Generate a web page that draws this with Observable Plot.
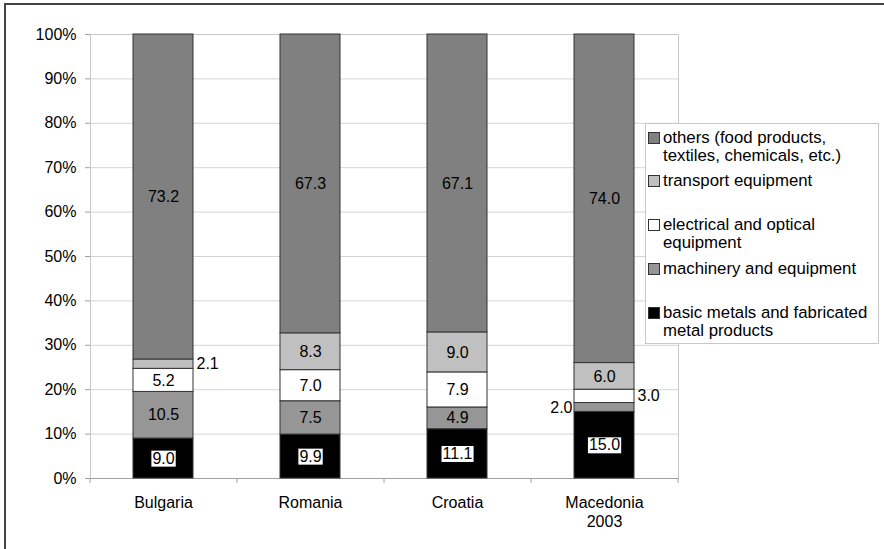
<!DOCTYPE html>
<html>
<head>
<meta charset="utf-8">
<script src="https://cdn.jsdelivr.net/npm/d3@7"></script>
<script src="https://cdn.jsdelivr.net/npm/@observablehq/plot@0.6"></script>
<style>
  html, body { margin: 0; padding: 0; background: #fff; }
  #wrap { position: relative; width: 884px; height: 549px; overflow: hidden; font-family: "Liberation Sans", Arial, sans-serif; }
  #frame { position: absolute; left: 4px; top: 3px; width: 1000px; height: 1000px; border-left: 2px solid #444; border-top: 2px solid #444; pointer-events: none; }
  #legend { position: absolute; left: 645px; top: 123px; width: 232px; height: 219px; border: 1px solid #c8c8c8; background: #fff; }
  .item { position: absolute; left: 0; font-size: 16.8px; line-height: 17.5px; color: #000; }
  .sw { position: absolute; width: 10px; height: 10px; border: 1px solid #333; }
  .lab { position: absolute; left: 15px; white-space: nowrap; }
</style>
</head>
<body>
<div id="wrap"><div id="chart"></div><div id="legend"></div><div id="frame"></div></div>
<script>
const categories = ["Bulgaria", "Romania", "Croatia", "Macedonia\n2003"];
const sectors = [
  "basic metals and fabricated metal products",
  "machinery and equipment",
  "electrical and optical equipment",
  "transport equipment",
  "others (food products, textiles, chemicals, etc.)"
];
const legendLabels = [
  "basic metals and fabricated\nmetal products",
  "machinery and equipment",
  "electrical and optical\nequipment",
  "transport equipment",
  "others (food products,\ntextiles, chemicals, etc.)"
];
const colors = ["#000000", "#969696", "#ffffff", "#c0c0c0", "#808080"];
const basicMetals = [9.0, 9.9, 11.1, 15.0];
const machinery = [10.5, 7.5, 4.9, 2.0];
const electrical = [5.2, 7.0, 7.9, 3.0];
const transport = [2.1, 8.3, 9.0, 6.0];
const others = [73.2, 67.3, 67.1, 74.0];
const yTicks = [0, 10, 20, 30, 40, 50, 60, 70, 80, 90, 100];
// labels placed outside the bar: [category index, sector index, side]
const outsideLabels = [[0, 3, "right"], [3, 1, "left"], [3, 2, "right"]];

const series = [basicMetals, machinery, electrical, transport, others];
const rows = [];
categories.forEach((c, ci) => {
  let acc = 0;
  series.forEach((s, si) => {
    const v = s[ci];
    const o = outsideLabels.find(d => d[0] === ci && d[1] === si);
    rows.push({country: c, sector: sectors[si], value: v, y1: acc, y2: acc + v, mid: acc + v / 2,
               side: o ? o[2] : "inside", black: si === 0});
    acc += v;
  });
});

const fmt = d3.format(".1f");
const chart = Plot.plot({
  width: 884,
  height: 549,
  marginLeft: 90,
  marginRight: 206,
  marginTop: 34,
  marginBottom: 71,
  style: {fontFamily: "'Liberation Sans', Arial, sans-serif", fontSize: "16px", background: "transparent"},
  x: {domain: categories, paddingInner: 0.59, paddingOuter: 0.295, label: null},
  y: {domain: [0, 100], label: null},
  color: {domain: sectors, range: colors},
  marks: [
    Plot.gridY(yTicks, {stroke: "#d4d4d4", strokeOpacity: 1}),
    Plot.frame({stroke: "#c8c8c8"}),
    Plot.ruleY([0], {stroke: "#a0a0a0"}),
    Plot.axisY(yTicks, {tickFormat: d => d + "%", tickSize: 5, tickPadding: 9, fontSize: 16, stroke: "#a0a0a0", fill: "#000", label: null}),
    Plot.axisX({tickSize: 0, tickPadding: 16, fontSize: 16, lineHeight: 1.2, fill: "#000", label: null}),
    Plot.barY(rows, {x: "country", y1: "y1", y2: "y2", fill: "sector", stroke: "#333", strokeWidth: 1}),
    Plot.text(rows.filter(d => d.side === "inside" && !d.black), {x: "country", y: "mid", text: d => fmt(d.value), fill: "#000", fontSize: 16}),
    Plot.text(rows.filter(d => d.side === "inside" && d.black), {x: "country", y: "mid", text: d => fmt(d.value), fill: "#010101", fontSize: 16, ariaLabel: "boxed labels"}),
    Plot.text(rows.filter(d => d.side === "right"), {x: "country", y: "mid", text: d => fmt(d.value), fill: "#000", fontSize: 16, textAnchor: "start", dx: 33}),
    Plot.text(rows.filter(d => d.side === "left"), {x: "country", y: "mid", text: d => fmt(d.value), fill: "#000", fontSize: 16, textAnchor: "end", dx: -32})
  ]
});
document.getElementById("chart").appendChild(chart);

const NS = "http://www.w3.org/2000/svg";
// white boxes behind labels on black segments
function boxLabels() {
  let targets = [];
  const g = chart.querySelector('[aria-label="boxed labels"]');
  if (g) targets = [...g.querySelectorAll("text")];
  if (!targets.length) {
    targets = [...chart.querySelectorAll("text")].filter(t => {
      const f = t.getAttribute("fill") || (t.parentNode && t.parentNode.getAttribute("fill"));
      return f === "#010101";
    });
  }
  targets.forEach(t => {
    let b;
    try { b = t.getBBox(); } catch (e) { return; }
    const r = document.createElementNS(NS, "rect");
    r.setAttribute("x", b.x - 1);
    r.setAttribute("y", b.y + 1);
    r.setAttribute("width", b.width + 2);
    r.setAttribute("height", b.height - 1);
    r.setAttribute("fill", "#fff");
    r.setAttribute("stroke", "none");
    if (t.getAttribute("transform")) r.setAttribute("transform", t.getAttribute("transform"));
    t.parentNode.insertBefore(r, t);
  });
}
boxLabels();

// between-category tick marks on the x axis, from Plot's own scales
try {
  const sx = chart.scale("x");
  const sy = chart.scale("y");
  const band = d3.scaleBand(sx.domain, sx.range)
    .paddingInner(sx.paddingInner ?? 0.59)
    .paddingOuter(sx.paddingOuter ?? 0.295)
    .align(sx.align ?? 0.5);
  const step = band.step(), bw = band.bandwidth();
  const y0 = d3.scaleLinear(sy.domain, sy.range)(0);
  const bounds = sx.domain.map(c => band(c) + bw / 2 - step / 2);
  bounds.push(band(sx.domain[sx.domain.length - 1]) + bw / 2 + step / 2);
  const gt = document.createElementNS(NS, "g");
  bounds.forEach(x => {
    const l = document.createElementNS(NS, "line");
    l.setAttribute("x1", x); l.setAttribute("x2", x);
    l.setAttribute("y1", y0); l.setAttribute("y2", y0 + 5);
    l.setAttribute("stroke", "#a0a0a0");
    gt.appendChild(l);
  });
  chart.appendChild(gt);
} catch (e) {}

// legend (top to bottom = reverse stack order)
const legend = document.getElementById("legend");
const centers = [313, 269, 225, 181, 138];
sectors.forEach((s, i) => {
  const item = document.createElement("div");
  item.className = "item";
  item.style.top = (centers[i] - 124 - 9) + "px";
  item.style.left = "2px";
  const sw = document.createElement("div");
  sw.className = "sw";
  sw.style.background = colors[i];
  sw.style.top = "3px";
  const lab = document.createElement("div");
  lab.className = "lab";
  lab.innerHTML = legendLabels[i].replace("\n", "<br>");
  item.appendChild(sw);
  item.appendChild(lab);
  legend.appendChild(item);
});
</script>
</body>
</html>
